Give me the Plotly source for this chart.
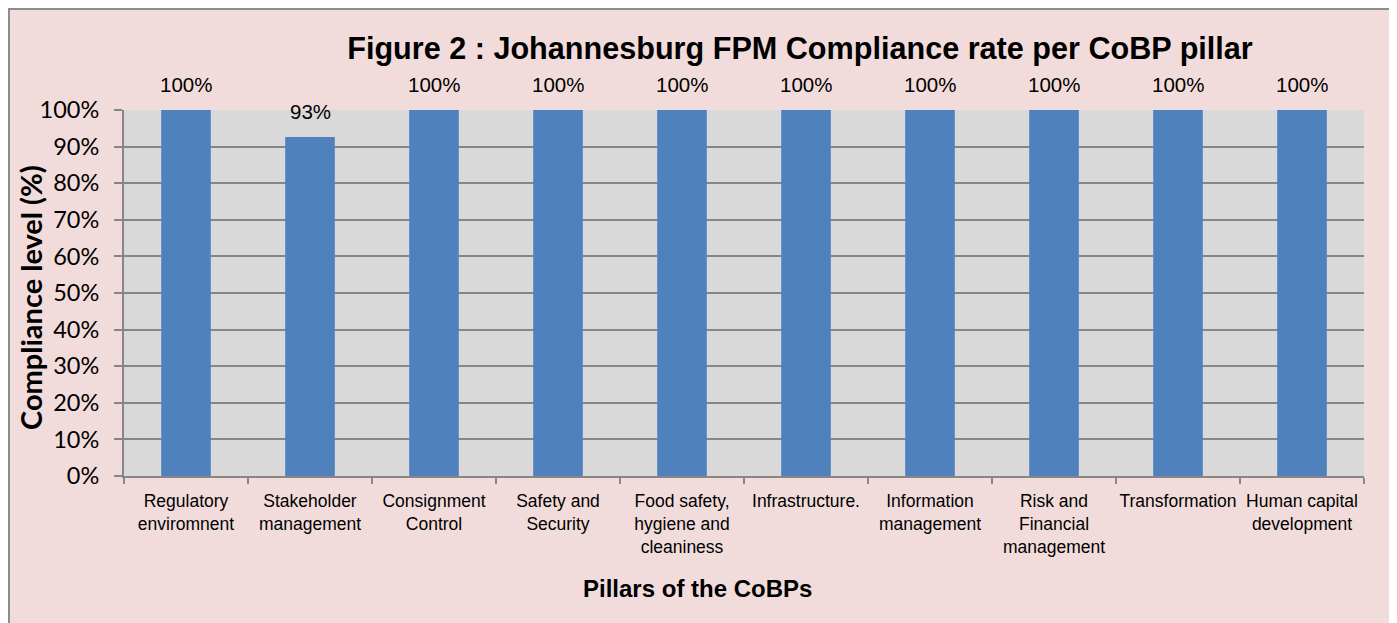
import plotly.graph_objects as go

categories = [
    "Regulatory<br>enviromnent",
    "Stakeholder<br>management",
    "Consignment<br>Control",
    "Safety and<br>Security",
    "Food safety,<br>hygiene and<br>cleaniness",
    "Infrastructure.",
    "Information<br>management",
    "Risk and<br>Financial<br>management",
    "Transformation",
    "Human capital<br>development",
]
values = [1.00, 0.926, 1.00, 1.00, 1.00, 1.00, 1.00, 1.00, 1.00, 1.00]
y_ticks = [0, 0.1, 0.2, 0.3, 0.4, 0.5, 0.6, 0.7, 0.8, 0.9, 1.0]

title_text = "Figure 2 : Johannesburg FPM Compliance rate per CoBP pillar"
x_title = "Pillars of the CoBPs"
y_title = "Compliance level (%)"

# page offset (default body margin of the html page)
OFF = 8
PW, PH = 1397, 623            # page size
W, H = PW - OFF, PH - OFF     # figure size
# plot area in page pixels
PL, PR, PT, PB = 124, 1364, 110, 476
L, T = PL - OFF, PT - OFF
R = W - (PR - OFF)
B = H - (PB - OFF)
pw, ph = W - L - R, H - T - B

def px_x(x):  # page pixel -> paper x
    return (x - OFF - L) / pw

def px_y(y):  # page pixel -> paper y
    return (H - B - (y - OFF)) / ph

narrow = "Liberation Sans Narrow, Arial Narrow, Liberation Sans, Arial, sans-serif"
pink = "#F2DCDB"
grid = "#868686"

fig = go.Figure(go.Bar(
    x=categories,
    y=values,
    marker=dict(color="#4F81BD", line=dict(width=0)),
    width=0.4,
    hoverinfo="x+y",
))

label_annotations = [
    dict(x=c, y=v, xref="x", yref="y", text=f"{round(v*100)}%",
         showarrow=False, xanchor="center", yanchor="middle", yshift=26,
         font=dict(family=narrow, size=20.5, color="#000000"))
    for c, v in zip(categories, values)
]

fig.update_layout(
    width=W, height=H,
    margin=dict(l=L, r=R, t=T, b=B, autoexpand=False),
    paper_bgcolor=pink,
    plot_bgcolor="#D9D9D9",
    showlegend=False,
    title=dict(
        text="<b>" + title_text + "</b>",
        x=(800 - OFF) / W, xanchor="center",
        y=1 - (48 - OFF) / H, yanchor="middle",
        font=dict(family=narrow, size=30.6, color="#000000"),
    ),
    xaxis=dict(
        automargin=False,
        showgrid=False,
        tickson="boundaries",
        ticks="outside", ticklen=6, tickcolor=grid, tickwidth=2,
        showline=True, linecolor=grid, linewidth=2,
        ticklabelstandoff=8,
        tickfont=dict(family=narrow, size=17.5, color="#000000"),
        tickangle=0,
    ),
    yaxis=dict(
        automargin=False,
        range=[0, 1.0],
        tickvals=y_ticks,
        tickformat=".0%",
        showgrid=True, gridcolor=grid, gridwidth=2,
        ticks="outside", ticklen=8, tickcolor=grid, tickwidth=2,
        showline=True, linecolor=grid, linewidth=2,
        zeroline=False,
        ticklabelstandoff=10,
        tickfont=dict(family="Lato, Open Sans, sans-serif", size=23.5, color="#000000"),
    ),
    annotations=label_annotations + [
        dict(text="<b>" + x_title + "</b>", xref="paper", yref="paper",
             x=px_x(697), y=px_y(588), xanchor="center", yanchor="middle",
             showarrow=False, font=dict(family="Liberation Sans, Arial, sans-serif", size=24, color="#000000")),
        dict(text="<b>" + y_title + "</b>", xref="paper", yref="paper",
             x=px_x(30), y=px_y(298), xanchor="center", yanchor="middle", textangle=-90,
             showarrow=False, font=dict(family="Lato, Open Sans, sans-serif", size=29, color="#000000")),
    ],
    shapes=[
        dict(type="rect", xref="paper", yref="paper", x0=px_x(-20), x1=px_x(PW + 20), y0=px_y(-20), y1=px_y(9),
             fillcolor="white", line=dict(width=0), layer="below"),
        dict(type="rect", xref="paper", yref="paper", x0=px_x(1390), x1=px_x(PW + 20), y0=px_y(PH + 20), y1=px_y(-20),
             fillcolor="white", line=dict(width=0), layer="below"),
        dict(type="rect", xref="paper", yref="paper", x0=px_x(9), x1=px_x(1390), y0=px_y(PH + 20), y1=px_y(9),
             fillcolor="rgba(0,0,0,0)", line=dict(color="#8C8C8C", width=2), layer="below"),
    ],
)

fig.write_html("out.html")
